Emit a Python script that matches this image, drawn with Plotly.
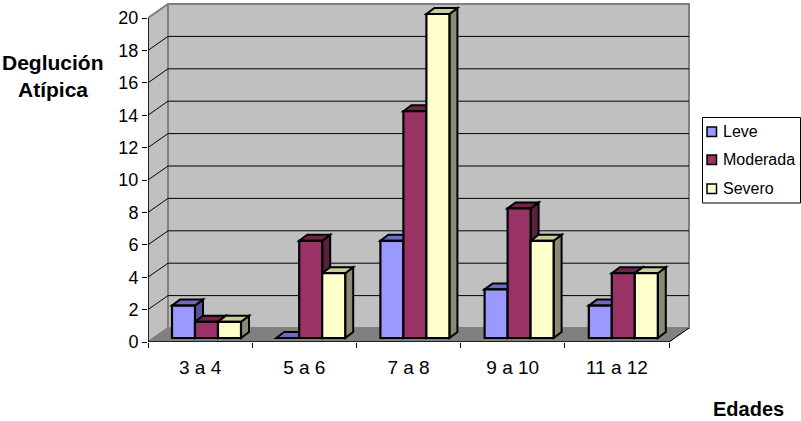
import plotly.graph_objects as go

edades = ['3 a 4', '5 a 6', '7 a 8', '9 a 10', '11 a 12']
leve = [2, 0, 6, 3, 2]
moderada = [1, 6, 14, 8, 4]
severo = [1, 4, 20, 6, 4]
y_ticks = list(range(0, 21, 2))

W, H = 801, 421
# plot area in pixels
left, right, top, bottom = 148, 690, 3, 342
px_x = 104.2  # pixels per category
px_y = 16.2   # pixels per unit

# 3d look: offsets in data units
wall_dx, wall_dy = 20 / px_x, 14 / px_y
base_dx, base_dy = 6.4 / px_x, 4 / px_y
depth_dx, depth_dy = 8 / px_x, 6 / px_y
bar_w = 23 / px_x
gap = (1 - 3 * bar_w) / 2

WALL = '#C0C0C0'
FLOOR = '#808080'


def poly(points, fill, line='black', width=1):
    path = 'M' + ' L'.join(f'{x},{y}' for x, y in points) + ' Z'
    return dict(type='path', path=path, xref='x', yref='y', layer='below',
                fillcolor=fill, line=dict(color=line, width=width))


def seg(points, color='black', width=1):
    path = 'M' + ' L'.join(f'{x},{y}' for x, y in points)
    return dict(type='path', path=path, xref='x', yref='y', layer='below',
                line=dict(color=color, width=width))


def paper_x(px):
    return (px - left) / (right - left)


def paper_y(px):
    return (bottom - px) / (bottom - top)


n = len(edades)
ymax = y_ticks[-1]
shapes = []

# walls and floor
shapes.append(poly([(wall_dx, wall_dy), (n + wall_dx, wall_dy), (n + wall_dx, ymax + wall_dy), (wall_dx, ymax + wall_dy)], WALL, FLOOR, 2))
shapes.append(poly([(0, 0), (wall_dx, wall_dy), (wall_dx, ymax + wall_dy), (0, ymax)], WALL, FLOOR, 2))
for v in y_ticks[1:-1]:
    shapes.append(seg([(0, v), (wall_dx, v + wall_dy), (n + wall_dx, v + wall_dy)], 'black', 1))
shapes.append(poly([(0, 0), (n, 0), (n + wall_dx, wall_dy), (wall_dx, wall_dy)], FLOOR, FLOOR, 1))
shapes.append(seg([(n, 0), (n + wall_dx, wall_dy)], 'black', 1))
shapes.append(seg([(0, 0), (0, ymax)], 'black', 1.5))
shapes.append(seg([(0, 0), (n, 0)], 'black', 1.5))

series = [
    ('Leve', leve, '#9999FF', '#6C6CC0', '#55559A'),
    ('Moderada', moderada, '#993366', '#6E2549', '#5C1F3D'),
    ('Severo', severo, '#FFFFCC', '#CCCC99', '#8A8A70'),
]

fig = go.Figure()
for j, (name, vals, col, col_top, col_side) in enumerate(series):
    xs = [i + gap + base_dx + bar_w * (j + 0.5) for i in range(n)]
    fig.add_trace(go.Bar(x=xs, y=vals, base=[base_dy] * n, width=bar_w, name=name,
                         marker=dict(color=col, line=dict(color='black', width=2.2)),
                         showlegend=False))
    for x, v in zip(xs, vals):
        x0, x1 = x - bar_w / 2, x + bar_w / 2
        y0, y1 = base_dy, base_dy + v
        if v > 0:
            shapes.append(poly([(x1, y0), (x1 + depth_dx, y0 + depth_dy), (x1 + depth_dx, y1 + depth_dy), (x1, y1)], col_side, 'black', 2))
        shapes.append(poly([(x0, y1), (x0 + depth_dx, y1 + depth_dy), (x1 + depth_dx, y1 + depth_dy), (x1, y1)], col_top, 'black', 2))

# legend drawn by hand so the box matches
shapes.append(dict(type='rect', xref='paper', yref='paper', layer='above',
                   x0=paper_x(702.5), x1=paper_x(800.5), y0=paper_y(203), y1=paper_y(117.5),
                   fillcolor='white', line=dict(color='black', width=1)))
annotations = []
legend_y = [131.5, 159.5, 188.5]
for (name, vals, col, col_top, col_side), ly in zip(series, legend_y):
    shapes.append(dict(type='rect', xref='paper', yref='paper', layer='above',
                       x0=paper_x(707), x1=paper_x(716.5), y0=paper_y(ly + 5), y1=paper_y(ly - 4.5),
                       fillcolor=col, line=dict(color='black', width=1.5)))
    annotations.append(dict(text=name, xref='paper', yref='paper', x=paper_x(721), y=paper_y(ly),
                            xanchor='left', yanchor='middle', showarrow=False,
                            font=dict(family='Liberation Sans', size=16, color='black')))

# axis titles
for txt, cx, cy, size in [('Deglución', 53, 62, 21), ('Atípica', 53, 89, 21), ('Edades', 748, 409, 20)]:
    annotations.append(dict(text=f'<b>{txt}</b>', xref='paper', yref='paper', x=paper_x(cx), y=paper_y(cy),
                            xanchor='center', yanchor='middle', showarrow=False,
                            font=dict(family='Liberation Sans', size=size, color='black')))

fig.update_layout(
    width=W, height=H,
    margin=dict(l=left, r=W - right, t=top, b=H - bottom, pad=0, autoexpand=False),
    paper_bgcolor='white', plot_bgcolor='white',
    barmode='overlay', showlegend=False,
    shapes=shapes, annotations=annotations,
    font=dict(family='Liberation Sans', size=17, color='black'),
    xaxis=dict(range=[0, (right - left) / px_x], tickvals=[i + 0.5 for i in range(n)], ticktext=edades,
               ticks='', showgrid=False, zeroline=False, showline=False, ticklabelstandoff=12,
               tickfont=dict(size=19),
               minor=dict(tick0=0, dtick=1, ticks='outside', ticklen=5, tickcolor='black', showgrid=False)),
    yaxis=dict(range=[0, (bottom - top) / px_y], tickvals=y_ticks, ticks='outside', ticklen=5,
               tickcolor='black', showgrid=False, zeroline=False, showline=False,
               tickfont=dict(size=18)),
)

fig.write_html('out.html', config=dict(displayModeBar=False),
               post_script="document.body.style.margin='0'")
